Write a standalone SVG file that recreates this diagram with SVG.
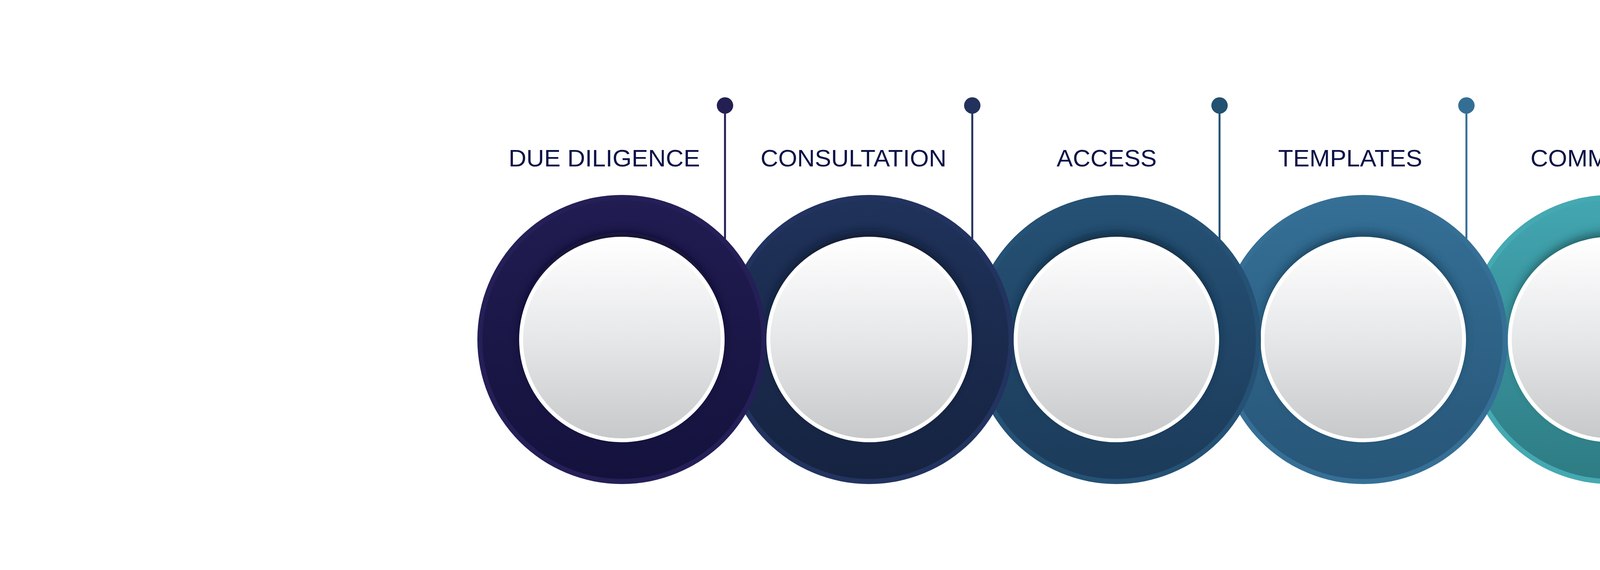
<svg xmlns="http://www.w3.org/2000/svg" width="5834" height="1459" viewBox="0 0 5834 1459">
<style>
.lbl{font-family:"Liberation Sans",Arial,sans-serif;font-size:62px;fill:#0b1247}
.face{fill:url(#gFace)}
.rim{fill:none;stroke:#ffffff;stroke-width:10}
.pin{stroke-width:5}
.shadow{opacity:0.8}
</style>
<defs>
<linearGradient id="gFace" x1="0" y1="0" x2="0" y2="1">
<stop offset="0" stop-color="#ffffff"/>
<stop offset="0.5" stop-color="#e6e7e9"/>
<stop offset="1" stop-color="#c7c8ca"/>
</linearGradient>
<linearGradient id="g1" x1="0" y1="0" x2="0" y2="1"><stop offset="0" stop-color="#211c51"/><stop offset="1" stop-color="#14123d"/></linearGradient>
<linearGradient id="g2" x1="0" y1="0" x2="0" y2="1"><stop offset="0" stop-color="#1f325a"/><stop offset="1" stop-color="#162341"/></linearGradient>
<linearGradient id="g3" x1="0" y1="0" x2="0" y2="1"><stop offset="0" stop-color="#255174"/><stop offset="1" stop-color="#1c3b5a"/></linearGradient>
<linearGradient id="g4" x1="0" y1="0" x2="0" y2="1"><stop offset="0" stop-color="#356f95"/><stop offset="1" stop-color="#275678"/></linearGradient>
<linearGradient id="g5" x1="0" y1="0" x2="0" y2="1"><stop offset="0" stop-color="#42a6b1"/><stop offset="1" stop-color="#2e7c84"/></linearGradient>
<filter id="sh" x="-20%" y="-20%" width="140%" height="140%">
<feGaussianBlur stdDeviation="12"/>
</filter>
</defs>
<rect width="5834" height="1459" fill="#ffffff"/>

<g id="node-community">
<circle cx="4123" cy="869" r="370" fill="#45a9b2"/>
<circle cx="4123" cy="869" r="357" fill="url(#g5)"/>
<circle class="shadow" cx="4123" cy="853" r="258" fill="#1d4f55" filter="url(#sh)"/>
<circle cx="4123" cy="869" r="258" class="face"/>
<circle cx="4123" cy="869" r="258" class="rim"/>
<text class="lbl" x="3918" y="426" textLength="386" lengthAdjust="spacingAndGlyphs">COMMUNITY</text>
</g>

<g id="node-templates">
<circle cx="3490" cy="869" r="370" fill="#366f95"/>
<circle cx="3490" cy="869" r="357" fill="url(#g4)"/>
<circle class="shadow" cx="3490" cy="853" r="258" fill="#173a52" filter="url(#sh)"/>
<circle cx="3490" cy="869" r="258" class="face"/>
<circle cx="3490" cy="869" r="258" class="rim"/>
<text class="lbl" x="3272" y="426" textLength="369" lengthAdjust="spacingAndGlyphs">TEMPLATES</text>
</g>

<g id="node-access">
<circle cx="2858" cy="869" r="370" fill="#255174"/>
<circle cx="2858" cy="869" r="357" fill="url(#g3)"/>
<circle class="shadow" cx="2858" cy="853" r="258" fill="#0f2235" filter="url(#sh)"/>
<circle cx="2858" cy="869" r="258" class="face"/>
<circle cx="2858" cy="869" r="258" class="rim"/>
<text class="lbl" x="2705" y="426" textLength="256" lengthAdjust="spacingAndGlyphs">ACCESS</text>
</g>

<g id="node-consultation">
<circle cx="2225" cy="869" r="370" fill="#22335f"/>
<circle cx="2225" cy="869" r="357" fill="url(#g2)"/>
<circle class="shadow" cx="2225" cy="853" r="258" fill="#0c1428" filter="url(#sh)"/>
<circle cx="2225" cy="869" r="258" class="face"/>
<circle cx="2225" cy="869" r="258" class="rim"/>
<text class="lbl" x="1947" y="426" textLength="476" lengthAdjust="spacingAndGlyphs">CONSULTATION</text>
</g>

<g id="node-due-diligence">
<circle cx="1592" cy="869" r="370" fill="#241f56"/>
<circle cx="1592" cy="869" r="357" fill="url(#g1)"/>
<circle class="shadow" cx="1592" cy="853" r="258" fill="#0c0a26" filter="url(#sh)"/>
<circle cx="1592" cy="869" r="258" class="face"/>
<circle cx="1592" cy="869" r="258" class="rim"/>
<text class="lbl" x="1302" y="426" textLength="490" lengthAdjust="spacingAndGlyphs">DUE DILIGENCE</text>
</g>

<g id="connectors">
<line class="pin" x1="1856" y1="270" x2="1856" y2="612" stroke="#231f52"/>
<circle cx="1856" cy="270" r="21" fill="#231f52"/>
<line class="pin" x1="2489" y1="270" x2="2489" y2="612" stroke="#22325c"/>
<circle cx="2489" cy="270" r="21" fill="#22325c"/>
<line class="pin" x1="3122" y1="270" x2="3122" y2="612" stroke="#245072"/>
<circle cx="3122" cy="270" r="21" fill="#245072"/>
<line class="pin" x1="3754" y1="270" x2="3754" y2="612" stroke="#356e94"/>
<circle cx="3754" cy="270" r="21" fill="#356e94"/>
<line class="pin" x1="4387" y1="270" x2="4387" y2="612" stroke="#44a7b1"/>
<circle cx="4387" cy="270" r="21" fill="#44a7b1"/>
</g>
</svg>
